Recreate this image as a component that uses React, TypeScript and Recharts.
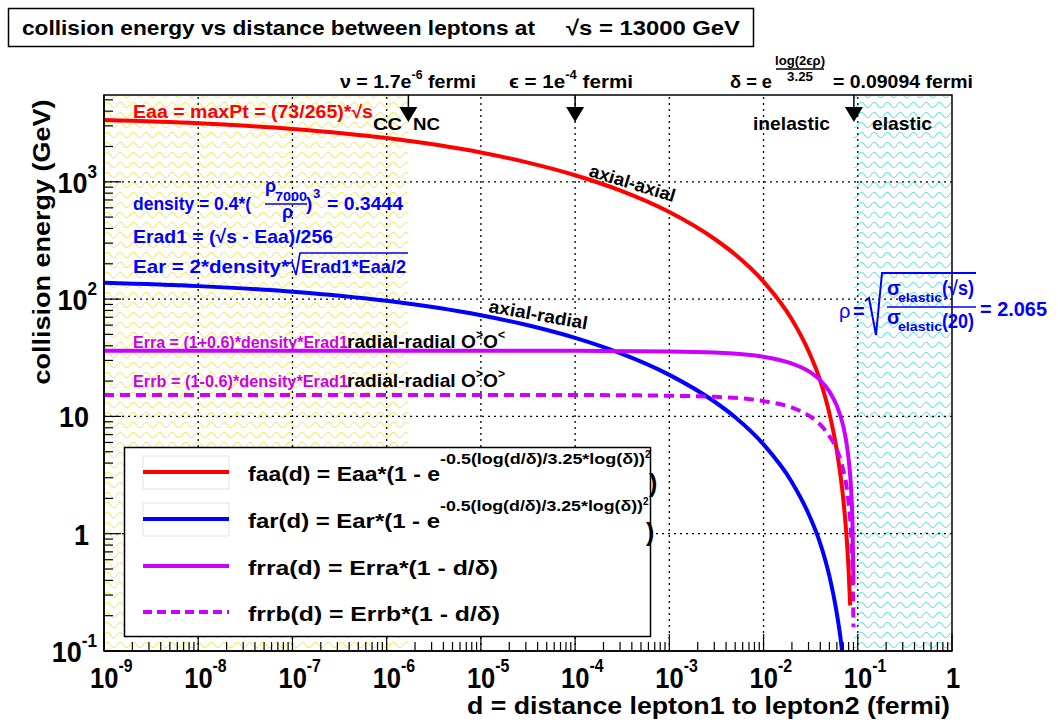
import React from 'react';
import { ComposedChart, Line, XAxis, YAxis, ReferenceArea, ReferenceLine, ReferenceDot } from 'recharts';

// distance between leptons (fermi) and collision energy (GeV)
const faaD = [1e-9, 1e-8, 1e-7, 1e-6, 1e-5, 3e-5, 1e-4, 3e-4, 1e-3, 3e-3, 5e-3, 1e-2, 2e-2, 3e-2, 4e-2, 5e-2, 6e-2, 7e-2, 7.5e-2, 8e-2, 8.3e-2];
const faaE = [3356, 3149, 2822, 2358, 1776, 1472, 1138, 845, 552, 327, 240, 141, 67, 36.1, 20.1, 10.6, 5.08, 2.01, 1.09, 0.48, 0.245];

const farD = [1e-9, 1e-8, 1e-7, 1e-6, 1e-5, 3e-5, 1e-4, 3e-4, 1e-3, 3e-3, 5e-3, 1e-2, 2e-2, 3e-2, 4e-2, 5e-2, 6e-2, 6.5e-2, 7e-2];
const farE = [137.6, 129, 115.7, 96.7, 72.8, 60.4, 46.7, 34.6, 22.6, 13.4, 9.83, 5.77, 2.75, 1.48, 0.824, 0.435, 0.208, 0.136, 0.082];

const frrD = [1e-9, 1e-6, 1e-4, 1e-3, 3e-3, 1e-2, 2e-2, 3e-2, 4e-2, 5e-2, 6e-2, 7e-2, 7.5e-2, 8e-2, 8.5e-2, 8.8e-2, 9e-2];
const frraE = [36.2, 36.2, 36.2, 35.8, 35.0, 32.2, 28.2, 24.3, 20.3, 16.3, 12.3, 8.3, 6.3, 4.3, 2.37, 1.17, 0.37];
const frrbE = [15.2, 15.2, 15.2, 15.0, 14.7, 13.5, 11.9, 10.2, 8.5, 6.8, 5.2, 3.5, 2.7, 1.8, 1.0, 0.49, 0.16];

const xMajor = [1e-9, 1e-8, 1e-7, 1e-6, 1e-5, 1e-4, 1e-3, 1e-2, 1e-1, 1];
const yMajor = [0.1, 1, 10, 100, 1000];
const X_MIN = 1e-9;
const X_MAX = 1;
const Y_MIN = 0.1;
const Y_MAX = 5495;

const nuD = 1.7e-6;
const epsD = 1e-4;
const deltaD = 0.09094;

const faa = faaD.map((d, i) => ({ d, e: faaE[i] }));
const far = farD.map((d, i) => ({ d, e: farE[i] }));
const frra = frrD.map((d, i) => ({ d, e: frraE[i] }));
const frrb = frrD.map((d, i) => ({ d, e: frrbE[i] }));

const withMinor = (majors: number[], max: number) =>
  majors
    .flatMap((m) => [1, 2, 3, 4, 5, 6, 7, 8, 9].map((k) => m * k))
    .filter((v) => v <= max * 1.0000001);

const xTicks = withMinor(xMajor, X_MAX);
const yTicks = withMinor(yMajor, Y_MAX);

const isMajor = (v: number) => Math.abs(Math.log10(v) - Math.round(Math.log10(v))) < 1e-6;

const FONT = '"Liberation Sans", Arial, Helvetica, sans-serif';
const RED = '#ff0000';
const BLUE = '#0000ff';
const VIOLET = '#cc00ff';
const VTEXT = '#cc00e6';

function XTick(props: any) {
  const { x, y, payload } = props;
  const v = payload.value as number;
  const major = isMajor(v);
  const e = Math.round(Math.log10(v));
  return (
    <g>
      <line x1={x} x2={x} y1={y} y2={y - (major ? 17 : 9)} stroke="#000" strokeWidth={1.2} />
      {major &&
        (e === 0 ? (
          <text transform={`translate(${x + 1} ${y + 37}) scale(0.88 1)`} textAnchor="middle" fontSize={29} fontWeight="bold" fontFamily={FONT}>
            1
          </text>
        ) : (
          <text transform={`translate(${x - 14} ${y + 37}) scale(0.88 1)`} fontSize={29} fontWeight="bold" fontFamily={FONT}>
            10<tspan dy={-16} fontSize={18}>{e}</tspan>
          </text>
        ))}
    </g>
  );
}

function YTick(props: any) {
  const { x, y, payload } = props;
  const v = payload.value as number;
  const major = isMajor(v);
  const e = Math.round(Math.log10(v));
  let label: React.ReactNode = null;
  if (major) {
    if (e === 0 || e === 1) {
      label = (
        <text transform={`translate(${x - 15} ${y + 11}) scale(0.9 1)`} textAnchor="end" fontSize={30} fontWeight="bold" fontFamily={FONT}>
          {e === 0 ? '1' : '10'}
        </text>
      );
    } else {
      label = (
        <text transform={`translate(${x - 7} ${y + 11}) scale(0.9 1)`} textAnchor="end" fontSize={30} fontWeight="bold" fontFamily={FONT}>
          10<tspan dy={-15} fontSize={19}>{e}</tspan>
        </text>
      );
    }
  }
  return (
    <g>
      <line x1={x} x2={x + (major ? 17 : 9)} y1={y} y2={y} stroke="#000" strokeWidth={1.2} />
      {label}
    </g>
  );
}

function Arrow(props: any) {
  const { cx, cy } = props;
  return (
    <g>
      <line x1={cx} x2={cx} y1={cy} y2={cy + 13} stroke="#000" strokeWidth={1.5} />
      <path d={`M${cx - 9} ${cy + 12} L${cx + 9} ${cy + 12} L${cx} ${cy + 27} Z`} fill="#000" />
    </g>
  );
}

const B = { fontWeight: 'bold' as const, fontFamily: FONT };

function Annotations() {
  return (
    <svg width={1058} height={722} style={{ position: 'absolute', left: 0, top: 0, pointerEvents: 'none' }}>
      {/* title */}
      <rect x={8.5} y={8.5} width={745} height={38} fill="#fff" stroke="#000" strokeWidth={1.5} />
      <text x={22} y={35} fontSize={21} {...B} textLength={513} lengthAdjust="spacingAndGlyphs">
        collision energy vs distance between leptons at
      </text>
      <text x={566} y={35} fontSize={21} {...B} textLength={174} lengthAdjust="spacingAndGlyphs">
        √s = 13000 GeV
      </text>

      {/* axis titles */}
      <text transform="translate(50 242) rotate(-90)" textAnchor="middle" fontSize={24} {...B} textLength={285} lengthAdjust="spacingAndGlyphs">
        collision energy (GeV)
      </text>
      <text x={467} y={714} fontSize={23} {...B} textLength={483} lengthAdjust="spacingAndGlyphs">
        d = distance lepton1 to lepton2 (fermi)
      </text>

      {/* markers above the frame */}
      <text x={340} y={88} fontSize={19} {...B} textLength={136} lengthAdjust="spacingAndGlyphs">
        ν = 1.7e<tspan dy={-9} fontSize={12}>-6</tspan>
        <tspan dy={9}> fermi</tspan>
      </text>
      <text x={509} y={88} fontSize={19} {...B} textLength={124} lengthAdjust="spacingAndGlyphs">
        ϵ = 1e<tspan dy={-9} fontSize={12}>-4</tspan>
        <tspan dy={9}> fermi</tspan>
      </text>
      <text x={730} y={88} fontSize={19} {...B} textLength={42} lengthAdjust="spacingAndGlyphs">
        δ = e
      </text>
      <text x={800} y={65} textAnchor="middle" fontSize={13} {...B} textLength={50} lengthAdjust="spacingAndGlyphs">
        log(2ϵρ)
      </text>
      <line x1={776} x2={824} y1={69} y2={69} stroke="#000" strokeWidth={1.3} />
      <text x={800} y={81} textAnchor="middle" fontSize={13} {...B} textLength={26} lengthAdjust="spacingAndGlyphs">
        3.25
      </text>
      <text x={833} y={88} fontSize={19} {...B} textLength={140} lengthAdjust="spacingAndGlyphs">
        = 0.09094 fermi
      </text>
      <text x={373} y={130} fontSize={17} {...B} textLength={29} lengthAdjust="spacingAndGlyphs">
        CC
      </text>
      <text x={413} y={130} fontSize={17} {...B} textLength={27} lengthAdjust="spacingAndGlyphs">
        NC
      </text>
      <text x={753} y={130} fontSize={19} {...B} textLength={77} lengthAdjust="spacingAndGlyphs">
        inelastic
      </text>
      <text x={872} y={130} fontSize={19} {...B} textLength={60} lengthAdjust="spacingAndGlyphs">
        elastic
      </text>

      {/* red */}
      <text x={133} y={118} fontSize={18} {...B} fill={RED} textLength={240} lengthAdjust="spacingAndGlyphs">
        Eaa = maxPt = (73/265)*√s
      </text>

      {/* blue block */}
      <g fill={BLUE}>
        <text x={133} y={210} fontSize={19} {...B} textLength={118} lengthAdjust="spacingAndGlyphs">
          density = 0.4*(
        </text>
        <text x={265} y={192} fontSize={18} {...B}>ρ</text>
        <text x={275} y={201} fontSize={13} {...B} textLength={32} lengthAdjust="spacingAndGlyphs">
          7000
        </text>
        <line x1={265} x2={307} y1={204} y2={204} stroke={BLUE} strokeWidth={1.3} />
        <text x={282} y={218} fontSize={18} {...B}>ρ</text>
        <text x={306} y={210} fontSize={19} {...B}>)</text>
        <text x={313} y={198} fontSize={13} {...B}>3</text>
        <text x={327} y={210} fontSize={19} {...B} textLength={76} lengthAdjust="spacingAndGlyphs">
          = 0.3444
        </text>
        <text x={133} y={243} fontSize={19} {...B} textLength={200} lengthAdjust="spacingAndGlyphs">
          Erad1 = (√s - Eaa)/256
        </text>
        <text x={133} y={273} fontSize={19} {...B} textLength={156} lengthAdjust="spacingAndGlyphs">
          Ear = 2*density*
        </text>
        <path d="M288 264 L292 262 L296 275 L300 253 L408 253" fill="none" stroke={BLUE} strokeWidth={1.6} />
        <text x={301} y={273} fontSize={19} {...B} textLength={105} lengthAdjust="spacingAndGlyphs">
          Erad1*Eaa/2
        </text>
      </g>

      {/* curve labels */}
      <text transform="translate(588 176) rotate(17)" fontSize={18} {...B} textLength={89} lengthAdjust="spacingAndGlyphs">
        axial-axial
      </text>
      <text transform="translate(488 312) rotate(10)" fontSize={18} {...B} textLength={100} lengthAdjust="spacingAndGlyphs">
        axial-radial
      </text>

      {/* violet */}
      <text x={133} y={348} fontSize={16} {...B} fill={VTEXT} textLength={215} lengthAdjust="spacingAndGlyphs">
        Erra = (1+0.6)*density*Erad1
      </text>
      <text x={347} y={348} fontSize={19} {...B} textLength={158} lengthAdjust="spacingAndGlyphs">
        radial-radial O<tspan dy={-9} fontSize={12}>&gt;</tspan>
        <tspan dy={9}>O</tspan>
        <tspan dy={-9} fontSize={12}>&lt;</tspan>
      </text>
      <text x={133} y={387} fontSize={16} {...B} fill={VTEXT} textLength={215} lengthAdjust="spacingAndGlyphs">
        Errb = (1-0.6)*density*Erad1
      </text>
      <text x={347} y={387} fontSize={19} {...B} textLength={158} lengthAdjust="spacingAndGlyphs">
        radial-radial O<tspan dy={-9} fontSize={12}>&gt;</tspan>
        <tspan dy={9}>O</tspan>
        <tspan dy={-9} fontSize={12}>&gt;</tspan>
      </text>

      {/* rho */}
      <g fill={BLUE}>
        <text x={839} y={318} fontSize={20} fontFamily={FONT}>ρ</text>
        <text x={853} y={318} fontSize={20} {...B}>=</text>
        <path d="M865 301 L869 298 L876 335 L882 273 L976 273" fill="none" stroke={BLUE} strokeWidth={2} />
        <text x={887} y={295} fontSize={20} {...B}>σ</text>
        <text x={898} y={302} fontSize={13} {...B} textLength={44} lengthAdjust="spacingAndGlyphs">elastic</text>
        <text x={942} y={295} fontSize={20} {...B} textLength={32} lengthAdjust="spacingAndGlyphs">(√s)</text>
        <line x1={887} x2={976} y1={307} y2={307} stroke={BLUE} strokeWidth={1.5} />
        <text x={887} y={324} fontSize={20} {...B}>σ</text>
        <text x={898} y={331} fontSize={13} {...B} textLength={44} lengthAdjust="spacingAndGlyphs">elastic</text>
        <text x={942} y={328} fontSize={20} {...B} textLength={32} lengthAdjust="spacingAndGlyphs">(20)</text>
        <text x={980} y={316} fontSize={21} {...B} textLength={67} lengthAdjust="spacingAndGlyphs">= 2.065</text>
      </g>

      {/* legend */}
      <rect x={124.5} y={447.5} width={526} height={189} fill="#fff" stroke="#000" strokeWidth={1.5} />
      <rect x={143} y={456} width={86} height={33} fill="none" stroke="#e4e4e4" />
      <rect x={143} y={503} width={86} height={33} fill="none" stroke="#e4e4e4" />
      <line x1={143} x2={229} y1={472} y2={472} stroke={RED} strokeWidth={4} />
      <line x1={143} x2={229} y1={519} y2={519} stroke={BLUE} strokeWidth={4} />
      <line x1={143} x2={229} y1={566} y2={566} stroke={VIOLET} strokeWidth={4} />
      <line x1={143} x2={229} y1={612} y2={612} stroke={VIOLET} strokeWidth={4} strokeDasharray="9 5" />
      <text x={248} y={481} fontSize={21} {...B} textLength={192} lengthAdjust="spacingAndGlyphs">
        faa(d) = Eaa*(1 - e
      </text>
      <text x={440} y={464} fontSize={14} {...B} textLength={205} lengthAdjust="spacingAndGlyphs">
        -0.5(log(d/δ)/3.25*log(δ))
      </text>
      <text x={645} y={458} fontSize={10} {...B}>2</text>
      <text x={649} y={492} fontSize={25} {...B}>)</text>
      <text x={248} y={528} fontSize={21} {...B} textLength={192} lengthAdjust="spacingAndGlyphs">
        far(d) = Ear*(1 - e
      </text>
      <text x={440} y={511} fontSize={14} {...B} textLength={203} lengthAdjust="spacingAndGlyphs">
        -0.5(log(d/δ)/3.25*log(δ))
      </text>
      <text x={643} y={505} fontSize={10} {...B}>2</text>
      <text x={646} y={541} fontSize={25} {...B}>)</text>
      <text x={248} y={575} fontSize={21} {...B} textLength={250} lengthAdjust="spacingAndGlyphs">
        frra(d) = Erra*(1 - d/δ)
      </text>
      <text x={248} y={621} fontSize={21} {...B} textLength={252} lengthAdjust="spacingAndGlyphs">
        frrb(d) = Errb*(1 - d/δ)
      </text>
    </svg>
  );
}

export default function App() {
  return (
    <div style={{ position: 'absolute', left: 0, top: 0, width: 1058, height: 722, background: '#fff' }}>
      <svg width={0} height={0} style={{ position: 'absolute' }}>
        <defs>
          <pattern id="wavYellow" width={13} height={10} patternUnits="userSpaceOnUse">
            <path d="M0 5 C2 1.5 4.5 1.5 6.5 5 S11 8.5 13 5" fill="none" stroke="#f0e43a" strokeWidth={1} />
          </pattern>
          <pattern id="wavCyan" width={13} height={10} patternUnits="userSpaceOnUse">
            <path d="M0 5 C2 1.5 4.5 1.5 6.5 5 S11 8.5 13 5" fill="none" stroke="#3fdede" strokeWidth={1} />
          </pattern>
        </defs>
      </svg>
      <ComposedChart width={1058} height={722} margin={{ top: 95, right: 106, bottom: 21, left: 44 }}>
        <XAxis
          dataKey="d"
          type="number"
          scale="log"
          domain={[X_MIN, X_MAX]}
          ticks={xTicks}
          interval={0}
          allowDataOverflow
          height={50}
          tickLine={false}
          tickSize={0}
          tickMargin={0}
          axisLine={{ stroke: '#000', strokeWidth: 1.5 }}
          tick={(p: any) => <XTick {...p} />}
        />
        <YAxis
          type="number"
          scale="log"
          domain={[Y_MIN, Y_MAX]}
          ticks={yTicks}
          interval={0}
          allowDataOverflow
          width={60}
          tickLine={false}
          tickSize={0}
          tickMargin={0}
          axisLine={{ stroke: '#000', strokeWidth: 1.5 }}
          tick={(p: any) => <YTick {...p} />}
        />
        <ReferenceArea x1={X_MIN} x2={nuD} fill="url(#wavYellow)" fillOpacity={1} stroke="none" />
        <ReferenceArea x1={deltaD} x2={X_MAX} fill="url(#wavCyan)" fillOpacity={1} stroke="none" />
        {xMajor.slice(1, -1).map((v) => (
          <ReferenceLine key={`gx${v}`} x={v} stroke="#000" strokeWidth={1.3} strokeDasharray="2 4" />
        ))}
        {yMajor.slice(1).map((v) => (
          <ReferenceLine key={`gy${v}`} y={v} stroke="#000" strokeWidth={1.3} strokeDasharray="2 4" />
        ))}
        <ReferenceArea x1={X_MIN} x2={X_MAX} y1={Y_MIN} y2={Y_MAX} fill="none" stroke="#000" strokeWidth={1.5} />
        <Line data={faa} dataKey="e" type="monotone" stroke={RED} strokeWidth={4} dot={false} isAnimationActive={false} />
        <Line data={far} dataKey="e" type="monotone" stroke={BLUE} strokeWidth={4} dot={false} isAnimationActive={false} />
        <Line data={frra} dataKey="e" type="monotone" stroke={VIOLET} strokeWidth={4} dot={false} isAnimationActive={false} />
        <Line data={frrb} dataKey="e" type="monotone" stroke={VIOLET} strokeWidth={4} strokeDasharray="10 6" dot={false} isAnimationActive={false} />
        <ReferenceDot x={nuD} y={Y_MAX} r={0} shape={(p: any) => <Arrow {...p} />} ifOverflow="visible" />
        <ReferenceDot x={epsD} y={Y_MAX} r={0} shape={(p: any) => <Arrow {...p} />} ifOverflow="visible" />
        <ReferenceDot x={deltaD} y={Y_MAX} r={0} shape={(p: any) => <Arrow {...p} />} ifOverflow="visible" />
      </ComposedChart>
      <Annotations />
    </div>
  );
}
